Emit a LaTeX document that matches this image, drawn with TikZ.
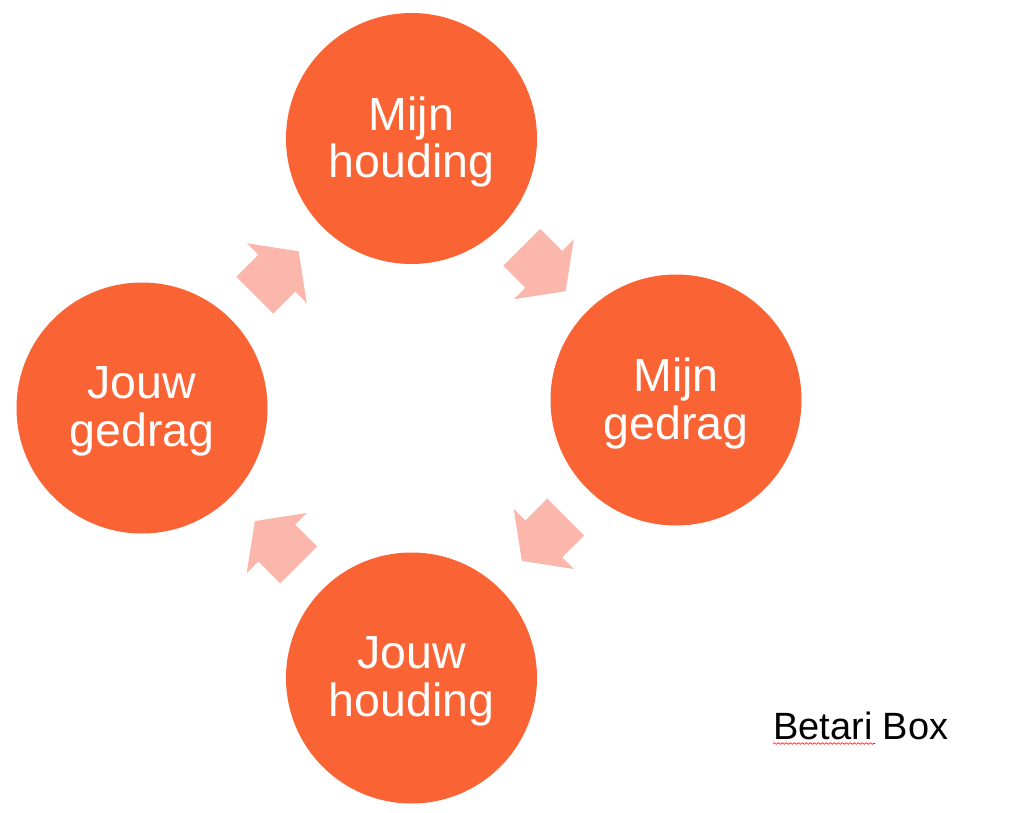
\documentclass[tikz,border=0pt]{standalone}
\usepackage{fontspec}
\setmainfont{Liberation Sans}
\usetikzlibrary{calc,decorations.pathmorphing}
\definecolor{oranje}{RGB}{250,100,53}
\definecolor{zalm}{RGB}{251,183,171}
\tikzset{
  bol/.style={circle, fill=oranje, minimum size=251pt, inner sep=0pt},
  tekst/.style={text=white, align=center, inner sep=0pt,
    font=\fontsize{46.5}{47.5}\selectfont},
  pics/pijl/.style={code={
    \fill[zalm] (-31,-26) -- (0,-26) -- (0,-42.5) -- (31,0)
      -- (0,42.5) -- (0,26) -- (-31,26) -- cycle;
  }},
  kronkel/.style={draw=red, line width=0.6pt,
    decorate, decoration={snake, segment length=4pt, amplitude=0.8pt}}
}
\begin{document}
\begin{tikzpicture}[x=1pt, y=1pt]
  \useasboundingbox (0,0) rectangle (1015,-813);

  % cirkels
  \node[bol] (mh) at (411.5,-138.5) {};
  \node[bol] (mg) at (676,-400) {};
  \node[bol] (jh) at (411.5,-678) {};
  \node[bol] (jg) at (142,-408) {};

  % teksten
  \node[tekst] (mhT) at ([yshift=-3.5pt]mh.center) {Mijn\\houding};
  \node[tekst] (mgT) at ([yshift=-3.5pt]mg.center) {Mijn\\gedrag};
  \node[tekst] (jhT) at ([yshift=-3.5pt]jh.center) {Jouw\\houding};
  \node[tekst] (jgT) at ([yshift=-3.5pt]jg.center) {Jouw\\gedrag};

  % pijlen
  \pic[rotate=-45] at ($(mh)!0.5!(mg)$) {pijl};
  \pic[rotate=-135] at ($(mg)!0.5!(jh)$) {pijl};
  \pic[rotate=135] at ($(jh)!0.5!(jg)$) {pijl};
  \pic[rotate=45] at ($(jg)!0.5!(mh)$) {pijl};

  % bron
  \node[anchor=base west, inner sep=0pt, font=\fontsize{38}{40}\selectfont]
    (bb) at (773,-739) {Betari Box};
  \draw[kronkel] ([yshift=-4.5pt]bb.base west) -- ++(102,0);

\end{tikzpicture}
\end{document}
